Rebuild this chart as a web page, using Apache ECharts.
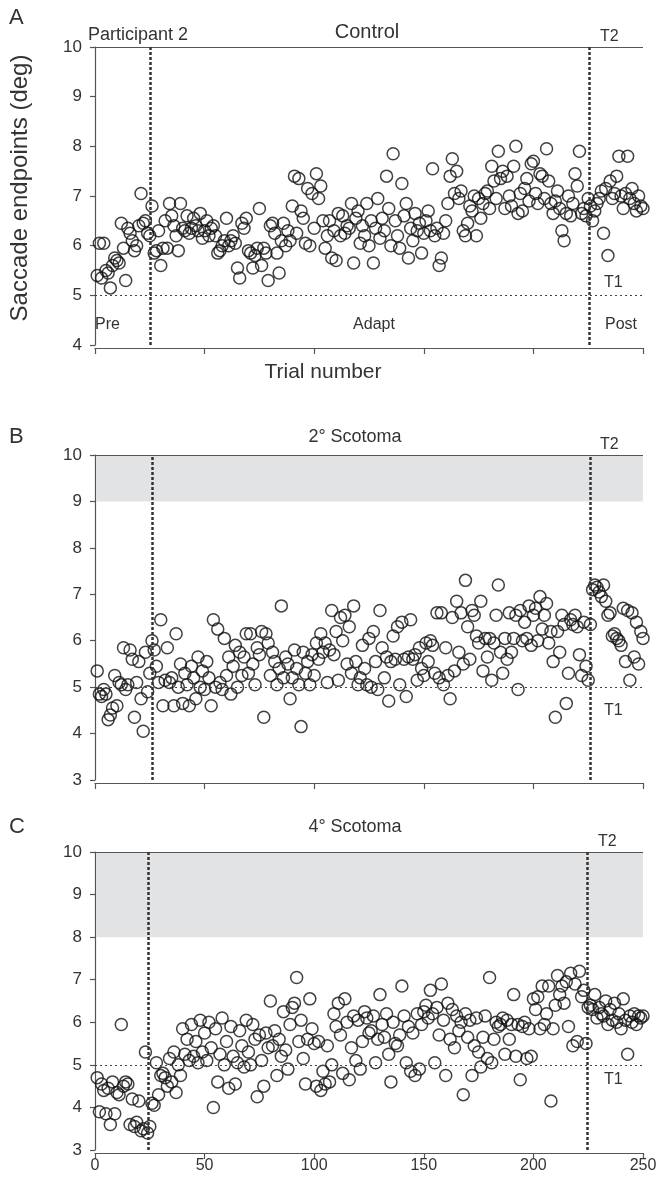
<!DOCTYPE html>
<html>
<head>
<meta charset="utf-8">
<script src="https://cdn.jsdelivr.net/npm/echarts@6/dist/echarts.min.js"></script>
<style>
  html, body { margin: 0; padding: 0; background: #fff; }
  #chart { width: 660px; height: 1184px; }
</style>
</head>
<body>
<div id="chart"></div>
<script>
// saccade endpoints (deg), one value per trial, trial = index + 1
const controlY = [
  5.40, 6.05, 5.35, 6.05, 5.50, 5.45, 5.15, 5.60, 5.75, 5.70,
  5.65, 6.45, 5.95, 5.30, 6.35, 6.25, 6.10, 5.90, 6.00, 6.40,
  7.05, 6.45, 6.50, 6.25, 6.20, 6.80, 5.85, 5.90, 6.30, 5.60,
  5.95, 6.50, 5.95, 6.85, 6.60, 6.40, 6.20, 5.90, 6.85, 6.35,
  6.30, 6.60, 6.25, 6.35, 6.55, 6.40, 6.30, 6.65, 6.15, 6.30,
  6.50, 6.20, 6.35, 6.40, 6.20, 5.85, 5.90, 6.00, 6.10, 6.55,
  6.00, 6.10, 6.20, 6.05, 5.55, 5.35, 6.45, 6.35, 6.55, 5.90,
  5.85, 5.55, 5.80, 5.95, 6.75, 5.60, 5.95, 5.85, 5.30, 6.40,
  6.45, 6.25, 5.85, 5.45, 6.10, 6.45, 6.00, 6.30, 6.10, 6.80,
  7.40, 6.25, 7.35, 6.70, 6.55, 6.05, 7.15, 6.00, 7.05, 6.35,
  7.45, 6.95, 7.20, 6.50, 5.95, 6.20, 6.50, 5.75, 6.30, 5.70,
  6.65, 6.20, 6.60, 6.25, 6.40, 6.35, 6.85, 5.65, 6.55, 6.70,
  6.05, 6.40, 6.20, 6.85, 6.00, 6.50, 5.65, 6.35, 6.95, 6.15,
  6.55, 6.30, 7.40, 6.75, 6.00, 7.85, 6.50, 6.20, 5.95, 7.25,
  6.60, 6.85, 5.75, 6.35, 6.10, 6.65, 6.30, 6.45, 5.85, 6.25,
  6.50, 6.70, 6.30, 7.55, 6.20, 6.35, 5.60, 5.75, 6.25, 6.50,
  6.85, 7.40, 7.75, 7.05, 7.50, 6.95, 7.10, 6.30, 6.20, 6.45,
  6.80, 6.70, 7.00, 6.20, 6.95, 6.55, 6.85, 7.05, 7.10, 6.75,
  7.60, 7.30, 6.95, 7.90, 7.35, 7.50, 6.75, 7.40, 7.00, 6.80,
  7.60, 8.00, 6.65, 7.05, 6.70, 7.15, 7.35, 6.90, 7.65, 7.70,
  7.05, 6.85, 7.45, 7.40, 6.95, 7.95, 7.30, 6.85, 6.65, 6.90,
  7.10, 6.75, 6.30, 6.10, 6.65, 7.00, 6.60, 6.85, 7.45, 7.20,
  7.90, 6.65, 6.75, 6.60, 6.95, 6.80, 6.50, 6.70, 6.85, 6.95,
  7.10, 6.25, 7.15, 5.80, 7.30, 6.95, 7.05, 7.40, 7.80, 7.00,
  6.75, 7.05, 7.80, 6.95, 7.15, 6.85, 6.70, 7.00, 6.80, 6.75
]
const scotoma2Y = [
  5.35, 4.85, 4.80, 4.95, 4.85, 4.30, 4.40, 4.55, 5.25, 4.60,
  5.10, 5.05, 5.85, 4.95, 5.05, 5.80, 5.60, 4.35, 5.10, 5.55,
  4.75, 4.05, 5.75, 4.90, 5.30, 6.00, 5.80, 5.45, 5.10, 6.45,
  4.60, 5.15, 5.85, 5.10, 5.20, 4.60, 6.15, 5.00, 5.50, 4.65,
  5.30, 5.05, 4.60, 5.45, 5.20, 4.75, 5.65, 5.00, 5.35, 4.95,
  5.55, 5.20, 4.60, 6.45, 5.00, 6.25, 5.10, 4.95, 6.05, 5.25,
  5.65, 4.85, 5.45, 5.90, 5.00, 5.75, 5.25, 5.65, 6.15, 5.30,
  6.15, 5.50, 5.05, 5.85, 5.70, 6.20, 4.35, 6.15, 5.95, 5.25,
  5.75, 5.55, 5.05, 5.40, 6.75, 5.20, 5.65, 5.50, 4.75, 5.20,
  5.80, 5.40, 5.05, 4.15, 5.75, 5.30, 5.55, 5.05, 5.70, 5.25,
  5.95, 5.60, 6.15, 5.75, 5.95, 5.10, 5.80, 6.65, 5.70, 6.20,
  5.15, 6.50, 6.00, 6.55, 5.50, 6.30, 5.30, 6.75, 5.55, 5.05,
  5.20, 5.90, 5.40, 5.05, 6.05, 5.00, 6.20, 5.55, 4.95, 6.65,
  5.85, 5.20, 5.65, 4.70, 5.55, 6.10, 5.60, 6.30, 5.05, 6.40,
  5.60, 4.80, 5.65, 6.45, 5.60, 5.70, 5.15, 5.85, 5.40, 5.25,
  5.95, 5.55, 6.00, 5.90, 5.30, 6.60, 5.20, 6.60, 5.05, 5.85,
  5.25, 4.75, 6.50, 5.35, 6.85, 5.75, 6.60, 5.50, 7.30, 6.30,
  5.60, 6.65, 6.55, 6.10, 5.95, 6.85, 5.35, 6.05, 5.65, 6.05,
  5.15, 5.95, 6.55, 7.20, 5.75, 5.30, 6.05, 5.60, 6.60, 5.75,
  6.05, 6.55, 4.95, 6.65, 6.00, 6.40, 6.05, 6.75, 5.90, 6.55,
  6.70, 6.00, 6.95, 6.25, 6.55, 6.80, 5.95, 6.20, 5.55, 4.35,
  6.20, 5.75, 6.55, 6.35, 4.65, 5.30, 6.45, 6.35, 6.55, 6.30,
  5.70, 5.25, 6.40, 5.45, 5.15, 6.35, 7.10, 7.20, 7.15, 7.05,
  6.95, 7.20, 6.85, 6.55, 6.60, 6.10, 6.15, 6.05, 6.00, 5.90,
  6.70, 5.55, 6.65, 5.15, 6.60, 5.65, 6.40, 5.50, 6.20, 6.05
]
const scotoma4Y = [
  4.70, 3.90, 4.55, 4.40, 3.85, 4.45, 3.60, 4.60, 3.85, 4.35,
  4.30, 5.95, 4.50, 4.60, 4.55, 3.60, 4.20, 3.55, 3.65, 4.15,
  3.45, 3.50, 5.30, 3.40, 3.55, 4.10, 4.05, 5.05, 4.30, 4.75,
  4.80, 4.70, 4.50, 5.15, 4.60, 5.30, 4.35, 5.00, 4.75, 5.85,
  5.25, 5.60, 5.10, 5.95, 5.20, 5.55, 5.05, 6.05, 5.30, 5.75,
  5.10, 6.00, 5.40, 4.00, 5.85, 4.60, 5.25, 6.10, 5.00, 5.55,
  4.45, 5.90, 5.20, 4.55, 5.05, 5.80, 5.45, 4.95, 6.05, 5.30,
  5.00, 5.95, 5.60, 4.25, 5.70, 5.10, 4.50, 5.75, 5.40, 6.50,
  5.45, 5.80, 4.75, 5.60, 5.20, 6.25, 5.35, 4.90, 5.95, 6.35,
  6.45, 7.05, 5.55, 6.05, 5.15, 4.55, 5.60, 6.55, 5.85, 5.50,
  4.50, 5.55, 4.40, 4.85, 4.55, 5.45, 4.60, 5.00, 6.20, 5.90,
  6.45, 5.70, 4.80, 6.55, 6.00, 4.65, 5.40, 6.15, 5.10, 6.05,
  4.90, 5.55, 6.25, 6.10, 5.75, 5.80, 6.15, 5.05, 5.60, 6.65,
  5.95, 5.65, 6.20, 5.25, 4.60, 6.00, 5.50, 5.45, 5.70, 6.85,
  6.15, 5.05, 5.90, 4.85, 5.75, 4.75, 6.20, 4.90, 5.95, 6.25,
  6.40, 6.10, 6.75, 6.20, 5.05, 6.35, 5.70, 6.90, 6.05, 4.75,
  6.45, 5.60, 6.30, 5.40, 6.15, 5.80, 6.00, 4.30, 6.20, 5.65,
  6.05, 4.75, 5.45, 6.10, 5.30, 4.95, 5.65, 6.15, 5.15, 7.05,
  5.05, 5.60, 6.00, 5.90, 5.95, 6.10, 5.25, 6.05, 5.60, 5.95,
  6.65, 5.20, 5.95, 4.65, 5.90, 6.00, 5.15, 5.85, 5.20, 6.55,
  6.30, 6.60, 5.85, 6.85, 5.95, 6.20, 6.85, 4.15, 5.85, 6.40,
  7.10, 6.65, 6.85, 6.45, 6.95, 5.90, 7.15, 5.45, 6.90, 5.55,
  7.20, 6.60, 6.75, 5.50, 6.35, 6.40, 6.30, 6.65, 6.10, 6.35,
  6.20, 6.15, 6.50, 5.95, 6.30, 6.05, 6.45, 6.00, 6.20, 5.85,
  6.55, 6.05, 5.25, 6.15, 6.00, 6.20, 5.95, 6.15, 6.10, 6.15
]

const xTicks = [0, 50, 100, 150, 200, 250]
const targetT1 = 5
const targetT2 = 10

const panels = [
  { letter: 'A', title: 'Control', data: controlY, yMin: 4, yMax: 10, top: 47, height: 298, box: null, events: [25, 225.5], xLabels: false },
  { letter: 'B', title: '2° Scotoma', data: scotoma2Y, yMin: 3, yMax: 10, top: 455, height: 325, box: [9, 10], events: [26, 226], xLabels: false },
  { letter: 'C', title: '4° Scotoma', data: scotoma4Y, yMin: 3, yMax: 10, top: 852, height: 298, box: [8, 10], events: [24.5, 224.5], xLabels: true },
]

const FONT = '"Liberation Sans", Arial, sans-serif'
const TXT = '#333'
const AXIS = '#555'

const chart = echarts.init(document.getElementById('chart'), null, { renderer: 'canvas' })

const grids = panels.map(p => ({ left: 95, width: 548, top: p.top, height: p.height }))

const xAxes = panels.map((p, i) => ({
  type: 'value', gridIndex: i, min: 0, max: 250, interval: 50, offset: 3,
  axisLine: { lineStyle: { color: AXIS, width: 1.2 } },
  axisTick: { show: true, length: 6, lineStyle: { color: AXIS, width: 1.2 } },
  axisLabel: { show: p.xLabels, color: TXT, fontSize: 16, fontFamily: FONT, margin: 5, customValues: xTicks },
  splitLine: { show: false },
}))

const yAxes = panels.map((p, i) => ({
  type: 'value', gridIndex: i, min: p.yMin, max: p.yMax, interval: 1, offset: 3,
  axisLine: { show: true, lineStyle: { color: AXIS, width: 1.2 } },
  axisTick: { show: true, length: 5, lineStyle: { color: AXIS, width: 1.2 } },
  axisLabel: { color: TXT, fontSize: 17, fontFamily: FONT, margin: 10 },
  splitLine: { show: false },
}))

const series = panels.map((p, i) => {
  const lines = [
    { yAxis: targetT2, lineStyle: { type: 'solid', color: '#555', width: 1 } },
    { yAxis: targetT1, lineStyle: { type: [2, 3], color: '#444', width: 1 } },
  ]
  p.events.forEach(x => lines.push({ xAxis: x, lineStyle: { type: [3, 2], color: '#333', width: 2.5 } }))
  return {
    type: 'scatter', xAxisIndex: i, yAxisIndex: i, clip: false,
    data: p.data.map((v, k) => [k + 1, v]),
    symbol: 'circle', symbolSize: 12,
    itemStyle: { color: 'rgba(0,0,0,0)', borderColor: '#111', borderWidth: 1.5 },
    silent: true,
    markArea: p.box ? {
      silent: true,
      itemStyle: { color: '#e2e3e5' },
      data: [[{ xAxis: 0.5, yAxis: p.box[0] }, { xAxis: 250.5, yAxis: p.box[1] }]],
    } : undefined,
    markLine: { silent: true, symbol: 'none', label: { show: false }, data: lines },
    z: 3,
  }
})

const text = (x, y, s, size, align, extra) => Object.assign({
  type: 'text', x, y,
  style: { text: s, fill: TXT, font: `${size}px ${FONT}`, textAlign: align || 'left', textVerticalAlign: 'middle' },
}, extra || {})

const graphics = [
  text(9, 18, 'A', 22), text(9, 437, 'B', 22), text(9, 827, 'C', 22),
  text(88, 35, 'Participant 2', 18),
  text(367, 32, 'Control', 20, 'center'),
  text(355, 437, '2° Scotoma', 18, 'center'),
  text(355, 827, '4° Scotoma', 18, 'center'),
  text(600, 37, 'T2', 16), text(600, 445, 'T2', 16), text(598, 842, 'T2', 16),
  text(604, 283, 'T1', 16), text(604, 711, 'T1', 16), text(604, 1080, 'T1', 16),
  text(95, 325, 'Pre', 16), text(374, 325, 'Adapt', 16, 'center'), text(605, 325, 'Post', 16),
  text(323, 372, 'Trial number', 21, 'center'),
  text(20, 188, 'Saccade endpoints (deg)', 24, 'center', { rotation: Math.PI / 2 }),
]

chart.setOption({
  animation: false,
  backgroundColor: '#fff',
  grid: grids,
  xAxis: xAxes,
  yAxis: yAxes,
  series,
  graphic: graphics,
})
</script>
</body>
</html>
